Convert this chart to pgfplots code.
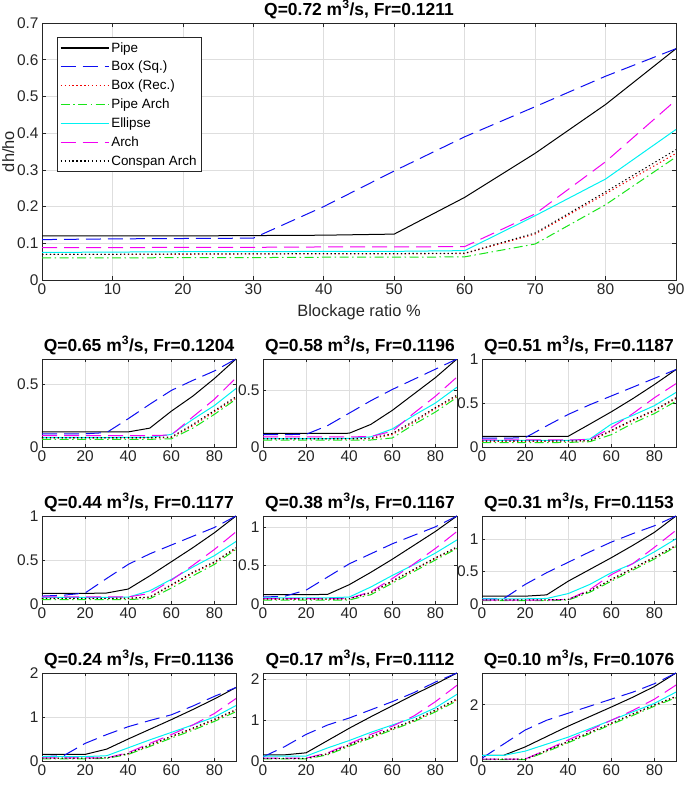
\documentclass[border=0pt]{standalone}
\usepackage{fontspec}
\setmainfont{Liberation Sans}
\usepackage{pgfplots}
\usepackage{pgfplotstable}
\pgfplotsset{compat=1.18}

\definecolor{mblue}{rgb}{0.05,0.05,0.95}
\definecolor{mred}{rgb}{0.95,0,0}
\definecolor{mgreen}{rgb}{0.1,0.9,0.1}
\definecolor{mcyan}{rgb}{0,0.95,0.95}
\definecolor{mmag}{rgb}{0.95,0,0.95}

% columns: x pipe boxsq boxrec parch ell arch consp
\pgfplotstableread{
x pipe boxsq boxrec parch ell arch consp
0 0.120 0.110 0.070 0.060 0.075 0.088 0.070
10 0.120 0.112 0.070 0.060 0.076 0.088 0.070
20 0.120 0.113 0.070 0.061 0.077 0.089 0.071
30 0.121 0.114 0.071 0.061 0.077 0.089 0.071
40 0.122 0.200 0.071 0.062 0.078 0.090 0.072
50 0.125 0.297 0.071 0.062 0.078 0.090 0.072
60 0.225 0.390 0.072 0.063 0.080 0.091 0.073
70 0.345 0.472 0.125 0.098 0.175 0.180 0.128
80 0.478 0.555 0.235 0.205 0.275 0.322 0.240
90 0.630 0.630 0.345 0.335 0.410 0.490 0.355
}\Tseventytwo

\pgfplotstableread{
x pipe boxsq boxrec parch ell arch consp
0 0.120 0.105 0.070 0.060 0.075 0.090 0.075
10 0.120 0.105 0.070 0.060 0.075 0.090 0.075
20 0.120 0.105 0.070 0.060 0.075 0.090 0.075
30 0.120 0.115 0.070 0.060 0.075 0.090 0.075
40 0.120 0.225 0.070 0.060 0.076 0.090 0.075
50 0.150 0.340 0.071 0.061 0.077 0.091 0.076
60 0.285 0.450 0.075 0.065 0.100 0.095 0.080
70 0.405 0.530 0.170 0.150 0.220 0.240 0.180
80 0.545 0.605 0.280 0.260 0.330 0.380 0.290
90 0.700 0.700 0.390 0.380 0.465 0.550 0.400
}\Tsixtyfive

\pgfplotstableread{
x pipe boxsq boxrec parch ell arch consp
0 0.120 0.110 0.070 0.060 0.075 0.090 0.075
10 0.120 0.110 0.070 0.060 0.075 0.090 0.075
20 0.120 0.112 0.070 0.060 0.075 0.090 0.075
30 0.120 0.190 0.070 0.060 0.075 0.090 0.075
40 0.122 0.300 0.070 0.060 0.076 0.090 0.075
50 0.200 0.410 0.072 0.062 0.090 0.092 0.078
60 0.325 0.510 0.110 0.080 0.160 0.140 0.120
70 0.470 0.600 0.220 0.200 0.280 0.300 0.230
80 0.615 0.690 0.340 0.310 0.390 0.450 0.350
90 0.780 0.780 0.450 0.440 0.530 0.620 0.460
}\Tfiftyeight

\pgfplotstableread{
x pipe boxsq boxrec parch ell arch consp
0 0.120 0.100 0.065 0.050 0.075 0.080 0.070
10 0.120 0.100 0.065 0.050 0.075 0.080 0.070
20 0.120 0.105 0.065 0.050 0.075 0.080 0.070
30 0.120 0.240 0.065 0.050 0.075 0.080 0.070
40 0.122 0.370 0.066 0.052 0.076 0.080 0.070
50 0.260 0.480 0.068 0.060 0.090 0.085 0.072
60 0.400 0.580 0.180 0.140 0.260 0.220 0.190
70 0.550 0.680 0.300 0.270 0.360 0.380 0.310
80 0.710 0.780 0.410 0.380 0.470 0.560 0.420
90 0.880 0.880 0.550 0.520 0.620 0.720 0.560
}\Tfiftyone

\pgfplotstableread{
x pipe boxsq boxrec parch ell arch consp
0 0.120 0.090 0.060 0.050 0.075 0.080 0.065
10 0.120 0.100 0.060 0.050 0.075 0.080 0.065
20 0.120 0.125 0.060 0.050 0.075 0.080 0.065
30 0.125 0.290 0.061 0.050 0.076 0.080 0.065
40 0.170 0.450 0.062 0.051 0.078 0.080 0.066
50 0.320 0.570 0.075 0.060 0.150 0.120 0.080
60 0.480 0.670 0.210 0.180 0.280 0.270 0.220
70 0.640 0.770 0.350 0.320 0.420 0.440 0.360
80 0.810 0.870 0.470 0.450 0.550 0.620 0.480
90 1.000 1.000 0.630 0.620 0.710 0.820 0.640
}\Tfortyfour

\pgfplotstableread{
x pipe boxsq boxrec parch ell arch consp
0 0.120 0.090 0.060 0.050 0.080 0.070 0.065
10 0.120 0.100 0.060 0.050 0.080 0.070 0.065
20 0.120 0.180 0.060 0.050 0.080 0.070 0.065
30 0.125 0.350 0.060 0.050 0.080 0.070 0.065
40 0.250 0.520 0.065 0.052 0.090 0.072 0.068
50 0.410 0.650 0.140 0.120 0.220 0.160 0.150
60 0.580 0.780 0.290 0.270 0.370 0.330 0.300
70 0.760 0.890 0.440 0.420 0.510 0.520 0.450
80 0.940 1.000 0.590 0.570 0.660 0.720 0.600
90 1.140 1.140 0.730 0.720 0.830 0.940 0.740
}\Tthirtyeight

\pgfplotstableread{
x pipe boxsq boxrec parch ell arch consp
0 0.120 0.080 0.060 0.050 0.080 0.060 0.065
10 0.120 0.080 0.060 0.050 0.080 0.060 0.065
20 0.120 0.300 0.060 0.050 0.080 0.060 0.065
30 0.140 0.480 0.060 0.050 0.085 0.060 0.065
40 0.350 0.640 0.070 0.060 0.160 0.070 0.070
50 0.530 0.800 0.200 0.180 0.300 0.220 0.200
60 0.710 0.950 0.370 0.350 0.480 0.450 0.380
70 0.900 1.080 0.540 0.520 0.620 0.620 0.550
80 1.100 1.200 0.710 0.690 0.800 0.870 0.720
90 1.350 1.350 0.890 0.880 1.000 1.130 0.900
}\Tthirtyone

\pgfplotstableread{
x pipe boxsq boxrec parch ell arch consp
0 0.150 0.100 0.060 0.050 0.100 0.070 0.065
10 0.150 0.120 0.060 0.050 0.100 0.070 0.065
20 0.150 0.400 0.060 0.050 0.100 0.070 0.065
30 0.270 0.600 0.070 0.060 0.120 0.070 0.070
40 0.500 0.780 0.160 0.150 0.300 0.190 0.170
50 0.720 0.920 0.350 0.330 0.480 0.400 0.370
60 0.940 1.050 0.550 0.520 0.650 0.600 0.560
70 1.170 1.250 0.730 0.700 0.820 0.820 0.750
80 1.410 1.470 0.930 0.900 1.000 1.080 0.950
90 1.670 1.670 1.150 1.120 1.260 1.420 1.170
}\Ttwentyfour

\pgfplotstableread{
x pipe boxsq boxrec parch ell arch consp
0 0.150 0.100 0.060 0.050 0.120 0.070 0.065
10 0.150 0.350 0.060 0.050 0.120 0.070 0.065
20 0.200 0.650 0.060 0.050 0.120 0.070 0.065
30 0.500 0.880 0.170 0.150 0.320 0.200 0.180
40 0.800 1.050 0.380 0.360 0.500 0.420 0.400
50 1.080 1.250 0.580 0.560 0.700 0.650 0.600
60 1.350 1.450 0.780 0.760 0.880 0.850 0.800
70 1.620 1.670 0.980 0.960 1.060 1.100 1.000
80 1.880 1.930 1.220 1.200 1.300 1.450 1.250
90 2.150 2.150 1.500 1.470 1.630 1.850 1.520
}\Tseventeen

\pgfplotstableread{
x pipe boxsq boxrec parch ell arch consp
0 0.200 0.100 0.060 0.050 0.200 0.070 0.065
10 0.200 0.600 0.060 0.050 0.200 0.070 0.065
20 0.500 1.100 0.060 0.050 0.350 0.070 0.065
30 0.870 1.450 0.360 0.330 0.600 0.400 0.380
40 1.240 1.700 0.680 0.650 0.850 0.750 0.700
50 1.580 1.950 1.000 0.970 1.150 1.100 1.020
60 1.920 2.200 1.330 1.300 1.450 1.450 1.350
70 2.270 2.450 1.660 1.620 1.750 1.800 1.680
80 2.650 2.750 1.980 1.950 2.050 2.200 2.000
90 3.130 3.130 2.280 2.250 2.450 2.700 2.300
}\Tten

\pgfplotsset{
  pipeS/.style={color=black, draw=black, solid},
  boxsqS/.style={color=mblue, draw=mblue, dash pattern=on 15bp off 7bp},
  boxrecS/.style={color=mred, draw=mred, dash pattern=on 1.3bp off 2.6bp},
  parchS/.style={color=mgreen, draw=mgreen, dash pattern=on 9bp off 3.5bp on 1.5bp off 3.5bp},
  ellS/.style={color=mcyan, draw=mcyan, solid},
  archS/.style={color=mmag, draw=mmag, dash pattern=on 15bp off 7bp},
  conspS/.style={color=black, draw=black, dash pattern=on 1.3bp off 2.6bp},
  base/.style={
    scale only axis, xmin=0, xmax=90, ymin=0,
    grid=major, grid style={black!13, line width=0.6bp},
    axis line style={black!85, line width=0.6bp},
    tick style={black!85, line width=0.6bp},
    tick align=inside, major tick length=4bp,
    ticklabel style={font=\fontsize{15.5}{17}\selectfont, text=black!85},
    /pgf/number format/assume math mode=true,
    title style={font=\bfseries\fontsize{17.5}{19}\selectfont, yshift=-5bp},
    every axis plot/.append style={line width=1bp, line join=round},
  },
  small/.style={base, width=194bp, height=88bp, xtick={0,20,40,60,80}, major tick length=3bp},
}

\newcommand\allplots[1]{%
  \addplot[pipeS] table[x=x,y=pipe]{#1};
  \addplot[boxsqS] table[x=x,y=boxsq]{#1};
  \addplot[boxrecS] table[x=x,y=boxrec]{#1};
  \addplot[parchS] table[x=x,y=parch]{#1};
  \addplot[ellS] table[x=x,y=ell]{#1};
  \addplot[archS] table[x=x,y=arch]{#1};
  \addplot[conspS] table[x=x,y=consp]{#1};
}

\begin{document}
\begin{tikzpicture}
\useasboundingbox (0,0) rectangle (685bp,788bp);

\begin{axis}[base, at={(42bp,508bp)}, anchor=south west,
  width=634bp, height=257bp, ymax=0.7,
  xtick={0,10,...,90}, ytick={0,0.1,0.2,0.3,0.4,0.5,0.6,0.7},
  yticklabel style={/pgf/number format/fixed},
  title={Q=0.72 m\textsuperscript{3}/s, Fr=0.1211},
  xlabel={Blockage ratio \%}, ylabel={dh/ho},
  label style={font=\fontsize{16.5}{18}\selectfont, text=black!85},
  xlabel style={yshift=-3bp},
  ylabel style={at={(axis description cs:-0.038,0.5)}, anchor=south},
  legend style={at={(0.0235,0.945)}, anchor=north west, draw=black!85, fill=white,
    line width=0.6bp, font=\fontsize{13.5}{15}\selectfont,
    inner xsep=3bp, inner ysep=3bp, row sep=3.6bp},
  legend cell align=left,
  legend image code/.code={\draw[mark repeat=2,mark phase=2,line width=1.1bp,#1] plot coordinates {(0bp,0bp) (24bp,0bp) (48bp,0bp)};},
]
\allplots{\Tseventytwo}
\legend{Pipe, Box (Sq.), Box (Rec.), Pipe Arch, Ellipse, Arch, Conspan Arch}
\end{axis}

% row 1
\begin{axis}[small, at={(42bp,341bp)}, anchor=south west, ymax=0.7, ytick={0,0.5},
  title={Q=0.65 m\textsuperscript{3}/s, Fr=0.1204}]
\allplots{\Tsixtyfive}
\end{axis}
\begin{axis}[small, at={(263bp,341bp)}, anchor=south west, ymax=0.78, ytick={0,0.5},
  title={Q=0.58 m\textsuperscript{3}/s, Fr=0.1196}]
\allplots{\Tfiftyeight}
\end{axis}
\begin{axis}[small, at={(482bp,341bp)}, anchor=south west, ymax=1, ytick={0,0.5,1},
  title={Q=0.51 m\textsuperscript{3}/s, Fr=0.1187}]
\allplots{\Tfiftyone}
\end{axis}

% row 2
\begin{axis}[small, at={(42bp,184bp)}, anchor=south west, ymax=1, ytick={0,0.5,1},
  title={Q=0.44 m\textsuperscript{3}/s, Fr=0.1177}]
\allplots{\Tfortyfour}
\end{axis}
\begin{axis}[small, at={(263bp,184bp)}, anchor=south west, ymax=1.14, ytick={0,0.5,1},
  title={Q=0.38 m\textsuperscript{3}/s, Fr=0.1167}]
\allplots{\Tthirtyeight}
\end{axis}
\begin{axis}[small, at={(482bp,184bp)}, anchor=south west, ymax=1.35, ytick={0,0.5,1},
  title={Q=0.31 m\textsuperscript{3}/s, Fr=0.1153}]
\allplots{\Tthirtyone}
\end{axis}

% row 3
\begin{axis}[small, at={(42bp,27bp)}, anchor=south west, ymax=2, ytick={0,1,2},
  title={Q=0.24 m\textsuperscript{3}/s, Fr=0.1136}]
\allplots{\Ttwentyfour}
\end{axis}
\begin{axis}[small, at={(263bp,27bp)}, anchor=south west, ymax=2.15, ytick={0,1,2},
  title={Q=0.17 m\textsuperscript{3}/s, Fr=0.1112}]
\allplots{\Tseventeen}
\end{axis}
\begin{axis}[small, at={(482bp,27bp)}, anchor=south west, ymax=3.13, ytick={0,2},
  title={Q=0.10 m\textsuperscript{3}/s, Fr=0.1076}]
\allplots{\Tten}
\end{axis}
\end{tikzpicture}
\end{document}
